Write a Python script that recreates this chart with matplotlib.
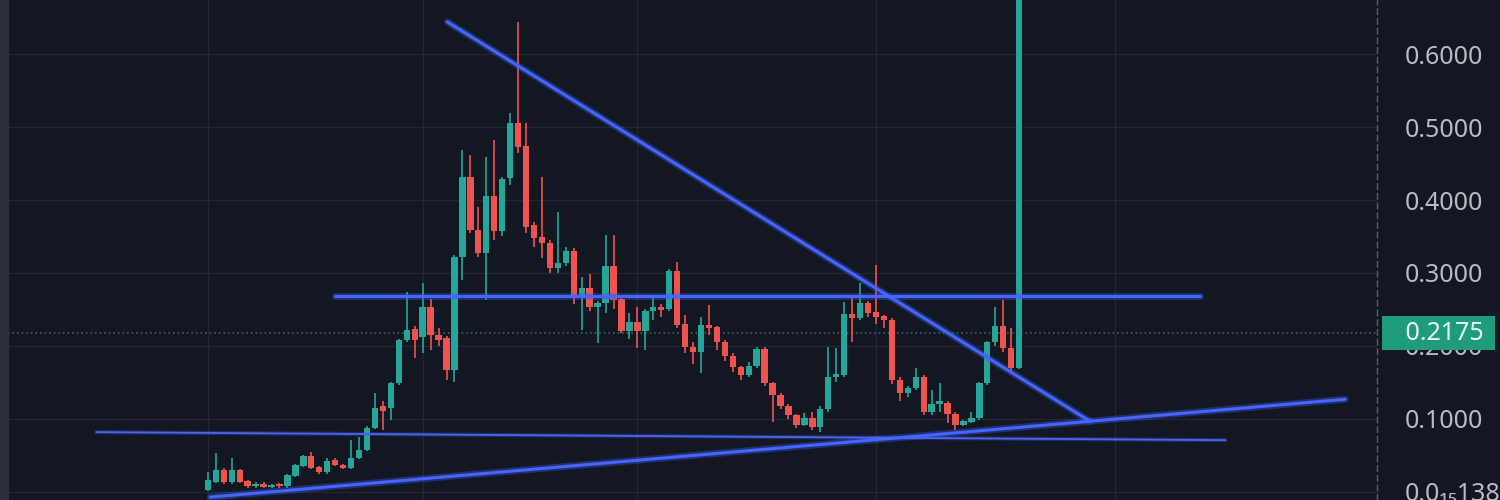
import numpy as np
import matplotlib.pyplot as plt
from matplotlib.patches import Rectangle

# daily candles
opens = [0.003, 0.014, 0.030, 0.013, 0.030, 0.015, 0.008, 0.011, 0.007, 0.010,
         0.008, 0.022, 0.036, 0.049, 0.034, 0.027, 0.044, 0.037, 0.033, 0.047,
         0.058, 0.088, 0.118, 0.115, 0.149, 0.208, 0.223, 0.212, 0.253, 0.215,
         0.211, 0.167, 0.322, 0.432, 0.359, 0.327, 0.405, 0.358, 0.430, 0.505,
         0.474, 0.366, 0.349, 0.341, 0.307, 0.314, 0.330, 0.270, 0.279, 0.253,
         0.259, 0.310, 0.264, 0.221, 0.233, 0.221, 0.248, 0.253, 0.251, 0.303,
         0.230, 0.199, 0.192, 0.229, 0.226, 0.205, 0.186, 0.171, 0.160, 0.173,
         0.196, 0.149, 0.133, 0.118, 0.105, 0.092, 0.101, 0.089, 0.114, 0.158,
         0.160, 0.244, 0.238, 0.259, 0.246, 0.241, 0.236, 0.153, 0.136, 0.142,
         0.158, 0.110, 0.121, 0.122, 0.107, 0.092, 0.096, 0.101, 0.149, 0.205,
         0.227, 0.197, 0.170]
closes = [0.016, 0.030, 0.013, 0.030, 0.014, 0.008, 0.011, 0.007, 0.009, 0.008,
          0.023, 0.037, 0.049, 0.033, 0.027, 0.042, 0.037, 0.033, 0.047, 0.058,
          0.088, 0.115, 0.111, 0.149, 0.208, 0.222, 0.208, 0.253, 0.215, 0.208,
          0.167, 0.322, 0.432, 0.359, 0.327, 0.405, 0.358, 0.429, 0.505, 0.473,
          0.363, 0.348, 0.341, 0.307, 0.314, 0.330, 0.270, 0.279, 0.253, 0.259,
          0.310, 0.263, 0.221, 0.233, 0.221, 0.248, 0.253, 0.249, 0.303, 0.229,
          0.199, 0.192, 0.229, 0.225, 0.205, 0.186, 0.171, 0.160, 0.173, 0.196,
          0.149, 0.133, 0.118, 0.105, 0.092, 0.101, 0.089, 0.114, 0.158, 0.160,
          0.244, 0.238, 0.259, 0.245, 0.240, 0.236, 0.153, 0.136, 0.142, 0.158,
          0.110, 0.121, 0.122, 0.107, 0.092, 0.097, 0.101, 0.149, 0.205, 0.227,
          0.197, 0.170, 0.750]
highs = [0.027, 0.053, 0.033, 0.047, 0.032, 0.017, 0.013, 0.013, 0.011, 0.012,
         0.025, 0.039, 0.051, 0.055, 0.036, 0.047, 0.047, 0.039, 0.071, 0.075,
         0.090, 0.135, 0.125, 0.151, 0.210, 0.274, 0.228, 0.286, 0.265, 0.224,
         0.213, 0.325, 0.468, 0.462, 0.390, 0.459, 0.482, 0.431, 0.519, 0.644,
         0.505, 0.370, 0.432, 0.345, 0.384, 0.335, 0.334, 0.295, 0.298, 0.262,
         0.352, 0.352, 0.268, 0.245, 0.253, 0.250, 0.270, 0.258, 0.305, 0.315,
         0.242, 0.205, 0.240, 0.256, 0.228, 0.208, 0.190, 0.173, 0.178, 0.198,
         0.198, 0.151, 0.136, 0.121, 0.107, 0.108, 0.110, 0.118, 0.199, 0.197,
         0.260, 0.267, 0.286, 0.262, 0.311, 0.243, 0.238, 0.157, 0.145, 0.170,
         0.160, 0.140, 0.149, 0.125, 0.110, 0.098, 0.110, 0.151, 0.207, 0.253,
         0.263, 0.225, 0.750]
lows = [0.001, 0.012, 0.011, 0.011, 0.012, 0.006, 0.006, 0.005, 0.005, 0.006,
        0.006, 0.020, 0.034, 0.031, 0.024, 0.025, 0.035, 0.031, 0.031, 0.045,
        0.056, 0.086, 0.085, 0.099, 0.147, 0.206, 0.184, 0.190, 0.195, 0.200,
        0.153, 0.151, 0.290, 0.355, 0.322, 0.263, 0.345, 0.350, 0.420, 0.465,
        0.355, 0.335, 0.320, 0.300, 0.300, 0.310, 0.258, 0.222, 0.248, 0.204,
        0.245, 0.250, 0.218, 0.210, 0.197, 0.195, 0.235, 0.240, 0.248, 0.225,
        0.190, 0.175, 0.163, 0.215, 0.195, 0.180, 0.165, 0.153, 0.157, 0.170,
        0.145, 0.096, 0.113, 0.100, 0.088, 0.090, 0.085, 0.082, 0.110, 0.150,
        0.158, 0.205, 0.235, 0.240, 0.230, 0.225, 0.148, 0.125, 0.130, 0.140,
        0.105, 0.105, 0.110, 0.095, 0.085, 0.090, 0.094, 0.099, 0.147, 0.200,
        0.192, 0.165, 0.168]

last_price = 0.2175
price_ticks = [0.0, 0.1, 0.2, 0.3, 0.4, 0.5, 0.6]
price_labels = ['0.0₁₅138', '0.1000', '0.2000', '0.3000', '0.4000', '0.5000', '0.6000']
time_grid = [0, 27, 54, 84, 114]

# drawn trend lines: (bar index, price) end points
falling_line = ([30.1, 110.9], [0.644, 0.097])
resistance_line = ([16.0, 124.8], [0.268, 0.268])
rising_line = ([0.3, 143.0], [-0.007, 0.127])
support_line = ([-14.0, 127.9], [0.082, 0.071])

BG = '#131722'
UP = '#26a69a'
DOWN = '#ef5350'
BLUE = '#3c5cf2'
TXT = '#b8bbc3'

fig = plt.figure(figsize=(15, 5), dpi=100, facecolor=BG)
ax = fig.add_axes([0.005, 0, 0.913, 1])
ax.set_facecolor(BG)

x = np.arange(len(opens))
o = np.array(opens)
c = np.array(closes)
cols = [UP if cc >= oo else DOWN for oo, cc in zip(o, c)]

ax.vlines(x, lows, highs, colors=cols, linewidth=1.2, zorder=3)
ax.bar(x, np.maximum(np.abs(c - o), 0.003), bottom=np.minimum(o, c),
       width=0.8, color=cols, linewidth=0, zorder=4)

for xs, ys in [falling_line, resistance_line, rising_line]:
    ax.plot(xs, ys, color=BLUE, linewidth=5, alpha=0.35, solid_capstyle='round', zorder=5)
    ax.plot(xs, ys, color='#4466ff', linewidth=2.2, solid_capstyle='round', zorder=6)
ax.plot(*support_line, color=BLUE, linewidth=3, alpha=0.3, zorder=5)
ax.plot(*support_line, color='#4a66f0', linewidth=1.3, zorder=6)

ax.axhline(last_price, color='#3f6f6a', linewidth=1.1, linestyle=(0, (1, 2)), zorder=2)
for t in time_grid:
    ax.axvline(t, color='#222633', linewidth=1, zorder=1)
ax.set_yticks(price_ticks)
ax.set_yticklabels(price_labels)
ax.grid(axis='y', color='#222633', linewidth=1)
ax.set_axisbelow(True)

ax.set_xlim(-25.2, 147.0)
ax.set_ylim(-0.011, 0.674)
ax.yaxis.tick_right()
ax.tick_params(axis='y', length=0, pad=20, labelsize=18, labelcolor=TXT)
for lab in ax.get_yticklabels():
    lab.set_fontfamily(['Noto Sans', 'DejaVu Sans'])
ax.set_xticks([])
for s in ['top', 'bottom', 'left']:
    ax.spines[s].set_visible(False)
ax.spines['right'].set_color('#5b5f6c')
ax.spines['right'].set_linestyle((0, (4, 3)))
ax.spines['right'].set_linewidth(1)

# last price badge on the scale
ypix = ax.transData.transform((0, last_price))[1] / fig.bbox.height
fig.text(0.9935, ypix, '   %.4f ' % last_price, ha='right', va='center', fontsize=18,
         color='#eafff8', family=['Noto Sans', 'DejaVu Sans'],
         bbox=dict(boxstyle='square,pad=0.18', fc='#1e9c7c', ec='none'))

fig.patches.append(Rectangle((0, 0), 0.005, 1, transform=fig.transFigure,
                             color='#2b2f3a', zorder=0))

fig.savefig('out.png', dpi=100, facecolor=BG)
